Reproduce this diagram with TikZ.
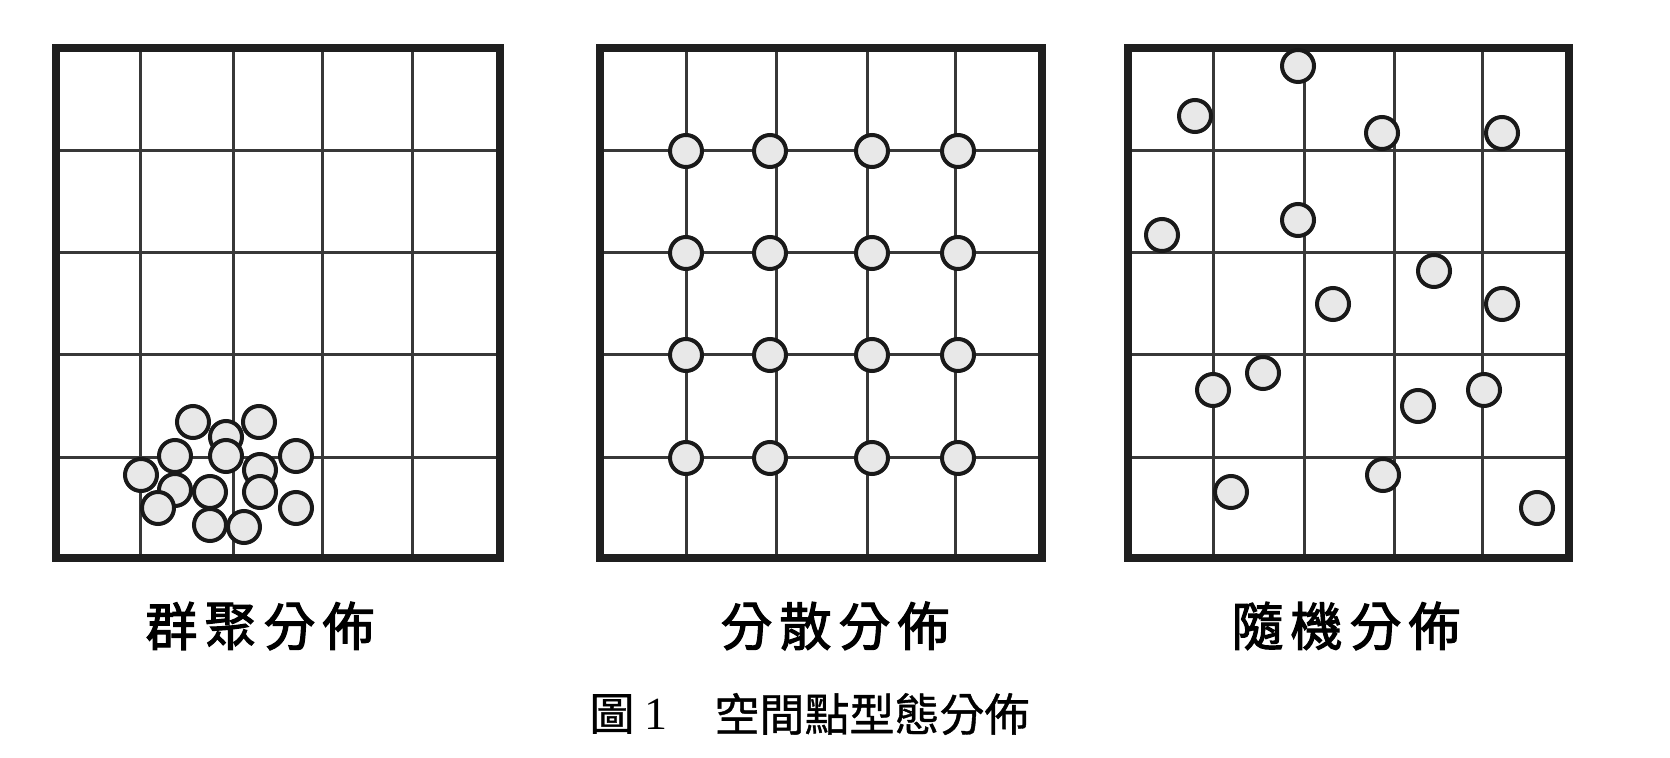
\documentclass[tikz,border=0pt]{standalone}
\usepackage{fontspec}
\setmainfont{Liberation Serif}
\newfontfamily\cjklbl[FakeBold=2.2]{Noto Sans CJK TC}
\newfontfamily\cjkcap[FakeBold=0.9]{Noto Sans CJK TC}
\newcommand{\lsp}{\hspace{3.5pt}}
\begin{document}
\begin{tikzpicture}[x=0.5pt,y=-0.5pt,
  gridln/.style={line width=1.5pt,draw=black!78},
  frame/.style={line width=4pt,draw=black!88,line join=miter},
  dot/.style={circle,draw=black!90,fill=black!9,line width=2pt,minimum size=16pt,inner sep=0pt},
  lbl/.style={font=\cjklbl\fontsize{26pt}{26pt}\selectfont,inner sep=0pt},
  captext/.style={font=\cjkcap\fontsize{22.5pt}{22.5pt}\selectfont,inner sep=0pt},
  capnum/.style={font=\fontsize{23pt}{23pt}\selectfont,inner sep=0pt}]
\fill[white] (0,0) rectangle (1670,758);
\useasboundingbox (0,0) rectangle (1670,758);

% ---------- panel 1: clustered ----------
\foreach \x in {140,233,322,412} \draw[gridln] (\x,48) -- (\x,558);
\foreach \y in {151,253,355,458} \draw[gridln] (56,\y) -- (500,\y);
\draw[frame] (56,48) rectangle (500,558);
\node[dot] (c03) at (226,437) {};
\node[dot] (c08) at (260,470) {};
\node[dot] (c09) at (175,490) {};
\node[dot] (c01) at (193,422) {};
\node[dot] (c02) at (259,422) {};
\node[dot] (c04) at (175,456) {};
\node[dot] (c05) at (226,456) {};
\node[dot] (c06) at (296,456) {};
\node[dot] (c07) at (141,475) {};
\node[dot] (c10) at (210,492) {};
\node[dot] (c11) at (260,492) {};
\node[dot] (c12) at (158,508) {};
\node[dot] (c13) at (296,508) {};
\node[dot] (c14) at (210,525) {};
\node[dot] (c15) at (244,527) {};

% ---------- panel 2: dispersed ----------
\foreach \x in {686,776,867,955} \draw[gridln] (\x,48) -- (\x,558);
\foreach \y in {151,253,355,458} \draw[gridln] (600,\y) -- (1042,\y);
\draw[frame] (600,48) rectangle (1042,558);
\foreach \x/\i in {686/1,770/2,872/3,958/4}
  \foreach \y/\j in {151/1,253/2,355/3,458/4}
    \node[dot] (d\i\j) at (\x,\y) {};

% ---------- panel 3: random ----------
\foreach \x in {1213,1304,1394,1482} \draw[gridln] (\x,48) -- (\x,558);
\foreach \y in {151,253,355,458} \draw[gridln] (1128,\y) -- (1569,\y);
\draw[frame] (1128,48) rectangle (1569,558);
\node[dot] (r01) at (1298,66) {};
\node[dot] (r02) at (1195,116) {};
\node[dot] (r03) at (1382,133) {};
\node[dot] (r04) at (1502,133) {};
\node[dot] (r05) at (1162,235) {};
\node[dot] (r06) at (1298,220) {};
\node[dot] (r07) at (1434,271) {};
\node[dot] (r08) at (1333,304) {};
\node[dot] (r09) at (1502,304) {};
\node[dot] (r10) at (1263,373) {};
\node[dot] (r11) at (1213,390) {};
\node[dot] (r12) at (1418,406) {};
\node[dot] (r13) at (1484,390) {};
\node[dot] (r14) at (1383,475) {};
\node[dot] (r15) at (1231,492) {};
\node[dot] (r16) at (1537,508) {};

% ---------- labels ----------
\node[lbl] (l1) at (260,626) {群\lsp 聚\lsp 分\lsp 佈};
\node[lbl] (l2) at (835,626) {分\lsp 散\lsp 分\lsp 佈};
\node[lbl] (l3) at (1346,626) {隨\lsp 機\lsp 分\lsp 佈};

% ---------- caption ----------
\node[captext] (cap1) at (612,714) {圖};
\node[capnum] (cap2) at (656,714) {1};
\node[captext] (cap3) at (872,714) {空間點型態分佈};
\end{tikzpicture}
\end{document}
